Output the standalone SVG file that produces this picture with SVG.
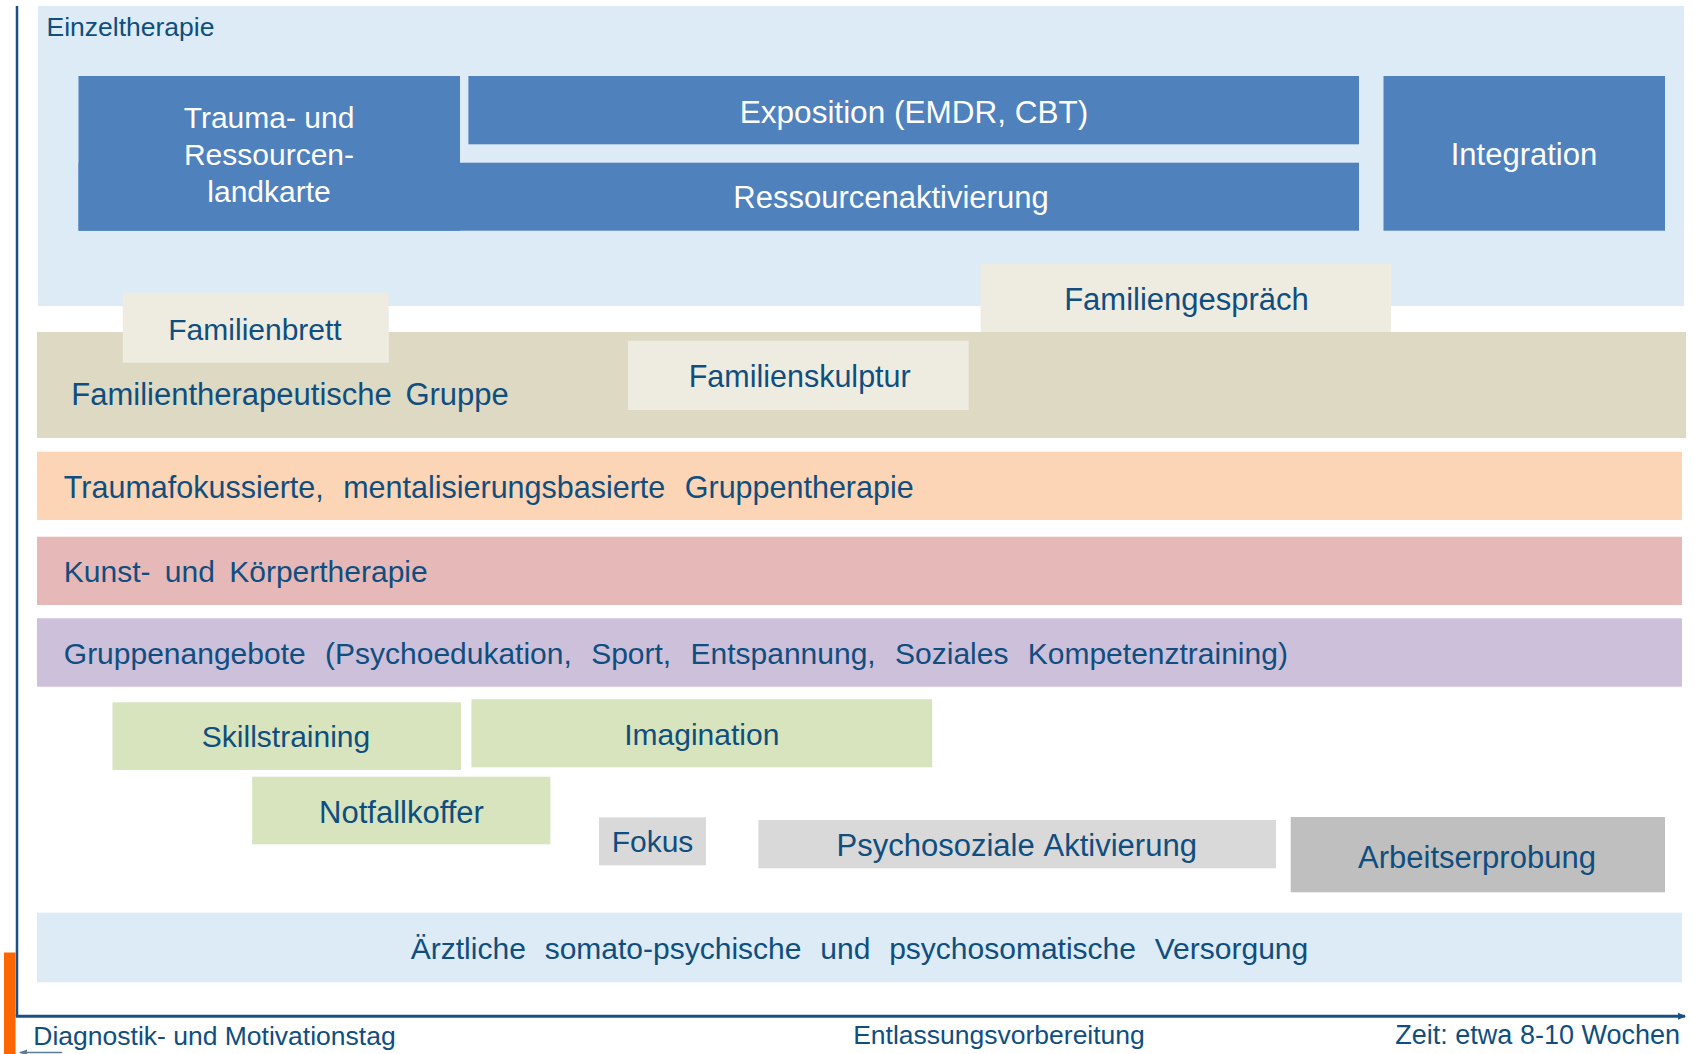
<svg xmlns="http://www.w3.org/2000/svg" width="1695" height="1054" viewBox="0 0 1695 1054">
<defs>
<style>
text{font-family:"Liberation Sans",Arial,sans-serif;fill:#0f4e7e;}
.w{fill:#ffffff;}
.f30{font-size:30px;}
.f31{font-size:31px;}
.f26{font-size:26.5px;}
.mid{text-anchor:middle;}
.blue{fill:#4f81bd;}
.ltblue{fill:#dcebf6;}
.beige{fill:#ddd9c3;}
.cream{fill:#eeece1;}
.green{fill:#d7e4bd;}
.axis{stroke:#1a5182;fill:none;}
</style>
<marker id="ah" markerWidth="8" markerHeight="8" refX="7" refY="4" orient="auto" markerUnits="userSpaceOnUse">
<path d="M0,0.5 L8,4 L0,7.5 Z" fill="#1a5182"/>
</marker>
<marker id="ahs" markerWidth="8" markerHeight="8" refX="7" refY="4" orient="auto" markerUnits="userSpaceOnUse">
<path d="M0,1 L8,4 L0,7 Z" fill="#5a7d9a"/>
</marker>
</defs>
<rect width="1695" height="1054" fill="#ffffff"/>

<g id="einzeltherapie">
<rect class="ltblue" x="38" y="6" width="1646" height="300"/>
<text x="46.5" y="35.5" style="font-size:26.5px">Einzeltherapie</text>
</g>

<g id="ressourcenaktivierung">
<rect class="blue" x="78.5" y="162.7" width="1280.5" height="68"/>
<text class="w f31 mid" x="891" y="208">Ressourcenaktivierung</text>
</g>

<g id="trauma-ressourcenlandkarte">
<rect class="blue" x="78.5" y="76" width="381.5" height="154.7"/>
<text class="w f30 mid" x="269" y="127.7">Trauma- und</text>
<text class="w f30 mid" x="269" y="165">Ressourcen-</text>
<text class="w f30 mid" x="269" y="202">landkarte</text>
</g>

<g id="exposition">
<rect class="blue" x="468.4" y="76" width="890.6" height="68.3"/>
<text class="w mid" x="914" y="122.5" style="font-size:31.5px">Exposition (EMDR, CBT)</text>
</g>

<g id="integration">
<rect class="blue" x="1383.5" y="76" width="281.5" height="154.7"/>
<text class="w f31 mid" x="1524" y="165">Integration</text>
</g>

<g id="familientherapeutische-gruppe">
<rect class="beige" x="37" y="332" width="1649" height="106"/>
<text class="f31" x="71.3" y="405" style="word-spacing:5px">Familientherapeutische Gruppe</text>
</g>

<g id="familienbrett">
<rect class="cream" x="122.8" y="292.7" width="266" height="70"/>
<text class="f30 mid" x="255" y="339.5">Familienbrett</text>
</g>

<g id="familienskulptur">
<rect class="cream" x="628" y="340.7" width="340.7" height="69.3"/>
<text class="mid" x="799.7" y="386.7" style="font-size:30.5px">Familienskulptur</text>
</g>

<g id="familiengespraech">
<rect class="cream" x="980.6" y="264" width="410.4" height="68"/>
<text class="f31 mid" x="1186.5" y="309.5">Familiengespräch</text>
</g>

<g id="traumafokussierte-gruppentherapie">
<rect fill="#fbd5b5" x="37" y="451.7" width="1645" height="68.3"/>
<text x="63.8" y="498" style="font-size:30.5px;word-spacing:11px">Traumafokussierte, mentalisierungsbasierte Gruppentherapie</text>
</g>

<g id="kunst-koerpertherapie">
<rect fill="#e6b8b7" x="37" y="536.7" width="1645" height="68.3"/>
<text class="f30" x="63.8" y="582" style="word-spacing:6px">Kunst- und Körpertherapie</text>
</g>

<g id="gruppenangebote">
<rect fill="#ccc0da" x="37" y="618.3" width="1645" height="68.4"/>
<text class="f30" x="63.8" y="663.5" style="word-spacing:11px">Gruppenangebote (Psychoedukation, Sport, Entspannung, Soziales Kompetenztraining)</text>
</g>

<g id="skillstraining">
<rect class="green" x="112.5" y="702.3" width="348.5" height="67.7"/>
<text class="f30 mid" x="286" y="746.7">Skillstraining</text>
</g>

<g id="imagination">
<rect class="green" x="471.4" y="699.3" width="460.8" height="68"/>
<text class="f30 mid" x="701.8" y="745">Imagination</text>
</g>

<g id="notfallkoffer">
<rect class="green" x="252.2" y="776.7" width="298.2" height="67.6"/>
<text class="f31 mid" x="401.5" y="822.7">Notfallkoffer</text>
</g>

<g id="fokus">
<rect fill="#d9d9d9" x="599" y="817.3" width="107" height="48"/>
<text class="f30 mid" x="652.5" y="851.7">Fokus</text>
</g>

<g id="psychosoziale-aktivierung">
<rect fill="#d9d9d9" x="758.4" y="820" width="517.6" height="48.3"/>
<text class="f31 mid" x="1016.7" y="856" style="word-spacing:2px">Psychosoziale Aktivierung</text>
</g>

<g id="arbeitserprobung">
<rect fill="#bfbfbf" x="1290.7" y="817" width="374.3" height="75.3"/>
<text class="f31 mid" x="1477" y="868.3">Arbeitserprobung</text>
</g>

<g id="aerztliche-versorgung">
<rect class="ltblue" x="37" y="912.7" width="1645" height="69.6"/>
<text class="f30 mid" x="859.5" y="958.5" style="word-spacing:10.5px">Ärztliche somato-psychische und psychosomatische Versorgung</text>
</g>

<g id="zeitachse">
<rect fill="#ff6600" x="4" y="952.5" width="11.5" height="102"/>
<text class="f26" x="33.3" y="1045">Diagnostik- und Motivationstag</text>
<text class="f26 mid" x="999" y="1044.3">Entlassungsvorbereitung</text>
<text x="1680" y="1044.3" text-anchor="end" style="font-size:27px">Zeit: etwa 8-10 Wochen</text>
</g>

<g id="connectors">
<path class="axis" d="M17,6 V1016.3" stroke-width="2.5"/>
<path class="axis" d="M15.8,1016.3 H1685" stroke-width="3" marker-end="url(#ah)"/>
<path d="M62,1052.5 H20" stroke="#5a7d9a" stroke-width="1.5" fill="none" marker-end="url(#ahs)"/>
</g>
</svg>
